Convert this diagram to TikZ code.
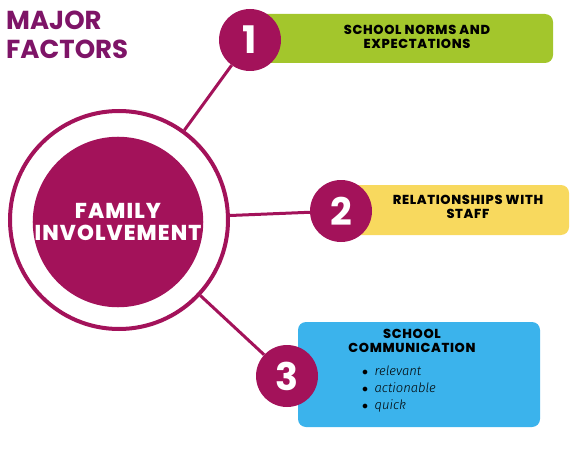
\documentclass[tikz,border=0pt]{standalone}
\usepackage{fontspec}
\setmainfont{Poppins}
\newfontfamily\widefont[LetterSpace=5, BoldFont={Poppins ExtraBold}]{Poppins}
\newfontfamily\handfont{Fira Sans Light}
\definecolor{berry}{HTML}{A3125A}
\definecolor{plum}{HTML}{7E1467}
\definecolor{lime}{HTML}{A3C62C}
\definecolor{butter}{HTML}{F8D95E}
\definecolor{sky}{HTML}{3BB3EC}
\tikzset{
  numcircle/.style={circle, fill=berry, text=white, minimum size=62pt, inner sep=0pt, font=\fontsize{38}{38}\selectfont\bfseries},
  factorbox/.style={rounded corners=8pt, inner sep=0pt},
  boxtext/.style={align=center, font=\widefont\fontsize{13}{13.5}\selectfont\bfseries},
  link/.style={draw=berry, line width=3pt}
}
\begin{document}
\begin{tikzpicture}[x=1pt,y=-1pt]
\useasboundingbox (0,0) rectangle (576,460);
\node[anchor=north west, text=plum, align=left, inner sep=0pt, font=\fontsize{26}{29}\selectfont\bfseries] (title) at (6,11) {MAJOR\\FACTORS};
% centre
\node[circle, draw=berry, line width=4pt, minimum size=218pt, inner sep=0pt] (ring) at (119,220) {};
\node[circle, fill=berry, minimum size=170pt, inner sep=0pt, text=white, align=center, font=\widefont\fontsize{21.5}{22}\selectfont\bfseries] (core) at (118,222) {FAMILY\\INVOLVEMENT};
% boxes
\fill[lime, factorbox] (250,14) rectangle (553,63);
\fill[butter, factorbox] (345,185) rectangle (569,235);
\fill[sky, factorbox] (298,322) rectangle (540,427);
\node[boxtext] (t1) at (417,37) {SCHOOL NORMS AND\\EXPECTATIONS};
\node[boxtext] (t2) at (468,207) {RELATIONSHIPS WITH\\STAFF};
\node[boxtext] (t3) at (412,341) {SCHOOL\\COMMUNICATION};
\node[anchor=north west, align=left, inner sep=0pt, font=\fontsize{13}{17}\selectfont\handfont\itshape] (list) at (362,366)
  {$\bullet$\enspace relevant\\$\bullet$\enspace actionable\\$\bullet$\enspace quick};
% numbers
\node[numcircle] (n1) at (250,40) {1};
\node[numcircle] (n2) at (341,211) {2};
\node[numcircle] (n3) at (287,376) {3};
% links
\draw[link] (ring) -- (n1);
\draw[link] (ring) -- (n2);
\draw[link] (ring) -- (n3);
\end{tikzpicture}
\end{document}
